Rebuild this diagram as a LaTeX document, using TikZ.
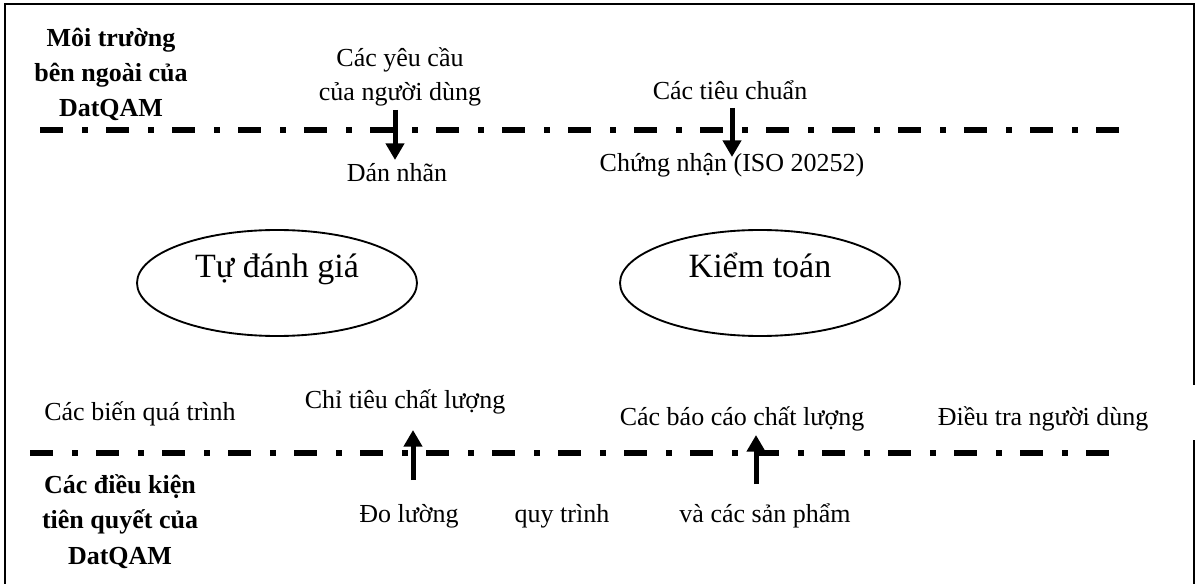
\documentclass[tikz,border=0pt]{standalone}
\usepackage{fontspec}
\setmainfont{Liberation Serif}
\usetikzlibrary{arrows.meta,shapes.geometric}
\begin{document}
\begin{tikzpicture}[x=0.75pt,y=-0.75pt,
  lbl/.style={anchor=base,inner sep=0pt,font=\fontsize{19.5}{26}\selectfont},
  twoline/.style={anchor=base,inner sep=0pt,align=center,font=\fontsize{19.5}{25.5}\selectfont},
  heading/.style={anchor=base,inner sep=0pt,align=center,font=\fontsize{19.5}{26.5}\selectfont\bfseries},
  biglbl/.style={anchor=base,inner sep=0pt,font=\fontsize{25.5}{30}\selectfont},
  oval/.style={draw,line width=1.4pt,ellipse,inner sep=0pt,minimum width=210pt,minimum height=79.5pt},
  boundary/.style={line width=4.5pt,dash pattern=on 17.25pt off 14.25pt on 4.5pt off 13.5pt},
  flow/.style={line width=3.75pt,-{Triangle[width=13.5pt,length=12.5pt]}},
  frame/.style={line width=1.6pt}]
\useasboundingbox (0,0) rectangle (1195,584);

% outer frame, open at the bottom and with a gap on the right side
\draw[frame] (5,590) -- (5,4) -- (1194,4) -- (1194,385);
\draw[frame] (1194,440) -- (1194,590);

% boundaries of the DatQAM environment
\coordinate (topL) at (40,130);
\coordinate (topR) at (1120,130);
\coordinate (botL) at (30,453);
\coordinate (botR) at (1110,453);
\draw[boundary] (topL) -- (topR);
\draw[boundary] (botL) -- (botR);

% headings (multi-line nodes sit on the baseline of their last line)
\node[heading] (ext) at (111,117) {Môi trường\\bên ngoài của\\DatQAM};
\node[heading] (pre) at (120,564) {Các điều kiện\\tiên quyết của\\DatQAM};

% outside influences
\node[twoline] (req) at (400,101) {Các yêu cầu\\của người dùng};
\node[lbl] (label) at (397,182) {Dán nhãn};
\node[lbl] (std) at (730,100) {Các tiêu chuẩn};
\node[lbl] (cert) at (732,172) {Chứng nhận (ISO 20252)};

% assessment types
\node[oval] (selfE) at (277,283) {};
\node[biglbl] (selfT) at (277,278) {Tự đánh giá};
\node[oval] (auditE) at (760,283) {};
\node[biglbl] (auditT) at (760,278) {Kiểm toán};

% inputs above the lower boundary
\node[lbl] (procvar) at (140,420) {Các biến quá trình};
\node[lbl] (ind) at (405,408) {Chỉ tiêu chất lượng};
\node[lbl] (rep) at (742,425) {Các báo cáo chất lượng};
\node[lbl] (survey) at (1043,425) {Điều tra người dùng};

% items below the lower boundary
\node[lbl] (meas) at (409,522) {Đo lường};
\node[lbl] (proc) at (562,522) {quy trình};
\node[lbl] (prod) at (765,522) {và các sản phẩm};

% arrows crossing the boundaries
\coordinate (a1s) at (395,110);
\coordinate (a1e) at (395,160);
\coordinate (a2s) at (732,108);
\coordinate (a2e) at (732,157);
\coordinate (a3s) at (413,480);
\coordinate (a3e) at (413,430);
\coordinate (a4s) at (756,484);
\coordinate (a4e) at (756,435);
\draw[flow] (a1s) -- (a1e);
\draw[flow] (a2s) -- (a2e);
\draw[flow] (a3s) -- (a3e);
\draw[flow] (a4s) -- (a4e);
\end{tikzpicture}
\end{document}
